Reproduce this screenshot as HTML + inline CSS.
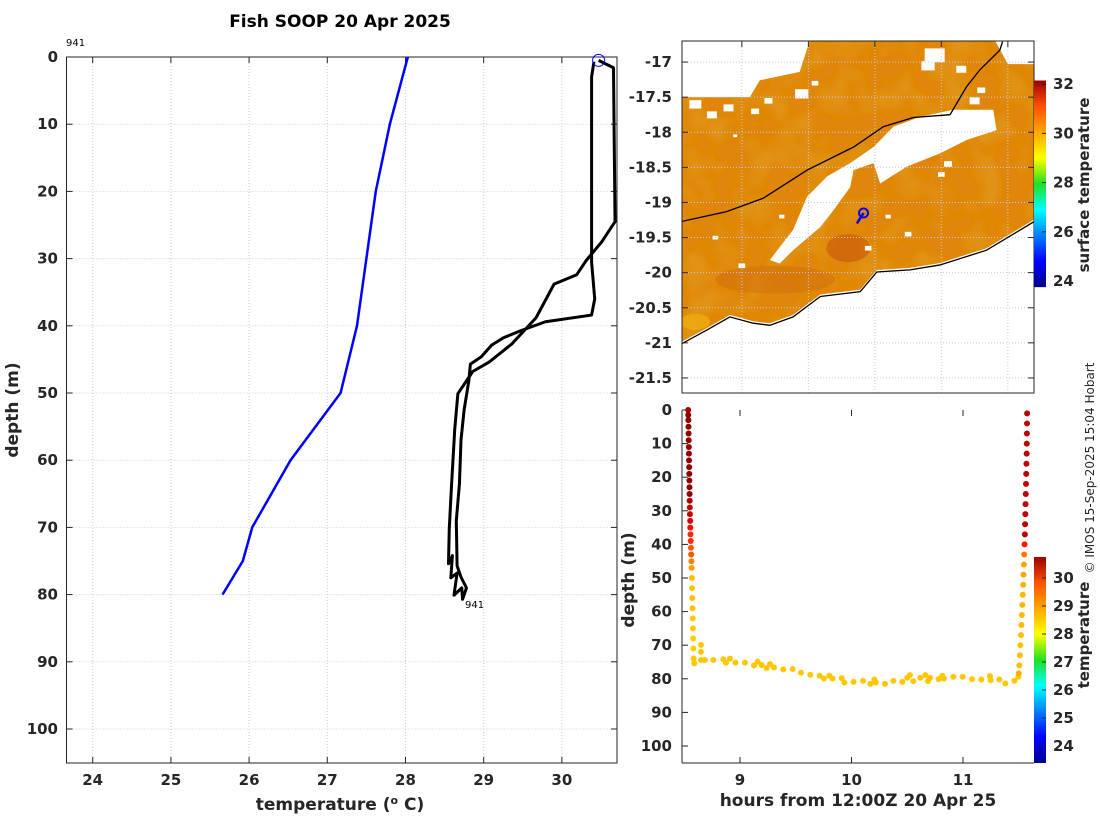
<!DOCTYPE html>
<html><head><meta charset="utf-8">
<style>
html,body{margin:0;padding:0;background:#fff;}
svg{display:block;font-family:"DejaVu Sans","Liberation Sans",sans-serif;}
.tk{font-size:15px;font-weight:bold;fill:#262626;}
.lb{font-size:17px;font-weight:bold;fill:#262626;}
</style></head>
<body>
<svg id="fig" width="1100" height="820" viewBox="0 0 1100 820" xmlns="http://www.w3.org/2000/svg">
<defs>
<linearGradient id="jet" x1="0" y1="1" x2="0" y2="0">
<stop offset="0" stop-color="#00008f"/><stop offset="0.125" stop-color="#0000ff"/><stop offset="0.375" stop-color="#00ffff"/><stop offset="0.5" stop-color="#20e020"/><stop offset="0.625" stop-color="#ffff00"/><stop offset="0.875" stop-color="#ff5000"/><stop offset="1" stop-color="#9a0000"/>
</linearGradient>
<filter id="grain" x="0" y="0" width="100%" height="100%">
<feTurbulence type="fractalNoise" baseFrequency="0.035" numOctaves="2" seed="4" result="n"/>
<feColorMatrix in="n" type="matrix" values="0 0 0 0 0.75  0 0 0 0 0.38  0 0 0 0 0.02  0 0 0 1.1 -0.45" result="c"/>
<feComposite in="c" in2="SourceGraphic" operator="in" result="cc"/>
<feMerge><feMergeNode in="SourceGraphic"/><feMergeNode in="cc"/></feMerge>
</filter>
<clipPath id="mapclip"><rect x="682" y="41" width="352" height="352"/></clipPath>
</defs>
<text x="340" y="27" text-anchor="middle" style="font-size:17px;font-weight:bold">Fish SOOP 20 Apr 2025</text>
<g id="left"></g>
<g id="map"></g>
<g id="bot"></g>
<text transform="translate(1094,468) rotate(-90)" text-anchor="middle" style="font-size:12px;fill:#262626">© IMOS 15-Sep-2025 15:04 Hobart</text>
</svg>
<script>
// ---- profile data ----
const climDepth=[0,10,20,30,40,50,60,70,75,80];
const climTemp=[28.03,27.8,27.62,27.5,27.38,27.17,26.53,26.04,25.92,25.66];
const downDepth=[0.5,1.6,24.5,27.5,30.3,32.4,33.8,38.8,42.7,45.4,46.8,50.1,55.4,63.5,70.2,75.4,74.2,77.5,76.8,80.1,79.0,80.7];
const downTemp=[30.47,30.66,30.68,30.51,30.31,30.19,29.9,29.67,29.36,29.07,28.86,28.67,28.63,28.59,28.56,28.55,28.6,28.58,28.66,28.62,28.72,28.73];
const upDepth=[80.7,79,77.4,75.7,69,63.5,57,52.5,48.2,45.7,44.6,42.9,41.8,40.7,39.4,38.4,36,30.5,22.3,14,3,0.7];
const upTemp=[28.73,28.78,28.71,28.66,28.65,28.69,28.71,28.75,28.81,28.83,28.97,29.1,29.25,29.48,29.79,30.38,30.42,30.38,30.38,30.38,30.38,30.41];
const tTicks=[24,25,26,27,28,29,30];
const dTicks=[0,10,20,30,40,50,60,70,80,90,100];
// ---- map data ----
const coastLon=[116.10,116.47,116.82,117.17,117.42,117.77,118.18,118.78,119.03,119.53,119.98,120.68,121.40];
const coastLat=[-21.01,-20.82,-20.63,-20.72,-20.75,-20.63,-20.34,-20.27,-19.99,-19.96,-19.89,-19.68,-19.27];
const lineLon=[116.10,116.77,117.32,117.98,118.68,119.13,119.58,120.13,120.38,120.58,120.88,120.92];
const lineLat=[-19.27,-19.13,-18.94,-18.54,-18.21,-17.92,-17.79,-17.75,-17.35,-17.11,-16.83,-16.71];
const dataTopLon=[116.10,117.12,117.27,117.87,118.02,120.81,121.0,121.39];
const dataTopLat=[-17.5,-17.5,-17.26,-17.14,-16.7,-16.7,-17.03,-17.03];
const cloudLon=[117.42,117.77,117.98,118.28,118.63,118.98,119.28,119.68,120.18,120.78,120.83,120.38,119.98,119.48,119.08,118.98,118.68,118.63,118.38,118.18,117.77,117.57];
const cloudLat=[-19.82,-19.39,-18.92,-18.63,-18.44,-18.21,-17.92,-17.78,-17.68,-17.68,-17.97,-18.11,-18.30,-18.49,-18.73,-18.44,-18.54,-18.78,-19.11,-19.35,-19.68,-19.87];
const blobLon=[116.3,116.8,117.4,117.9,119.9,120.3,120.6,119.5,118.9,117.0,116.6,117.7,120.0,119.2,116.55,117.2,118.1,119.8,120.5,120.1,116.9,117.6];
const blobLat=[-17.6,-17.65,-17.55,-17.45,-16.9,-17.1,-17.4,-19.45,-19.65,-19.9,-19.5,-19.55,-18.6,-19.2,-17.75,-17.7,-17.3,-17.05,-17.55,-18.45,-18.05,-19.2];
const blobSize=[0.18,0.15,0.12,0.2,0.3,0.15,0.12,0.1,0.1,0.1,0.08,0.1,0.1,0.08,0.15,0.12,0.1,0.2,0.15,0.12,0.06,0.08];
const trackLon=[118.83,118.73];
const trackLat=[-19.15,-19.3];
const latTicks=[-17,-17.5,-18,-18.5,-19,-19.5,-20,-20.5,-21,-21.5];
const lonTicks=[117,118,119,120,121];
const sstTicks=[24,26,28,30,32];
// ---- depth-time scatter ----
const descT=[8.535,8.536,8.537,8.538,8.539,8.540,8.541,8.542,8.543,8.544,8.545,8.546,8.547,8.548,8.549,8.550,8.551,8.553,8.554,8.556,8.558,8.560,8.562,8.564,8.566,8.568,8.570,8.572,8.574,8.576,8.578,8.580,8.582,8.584];
const descD=[0,1.5,3,5,7,9,11,13,15,17,19,21,23,25,27,29,31,33,35,37,39,41,43,45,47,50,53,56,59,62,65,68,71,74];
const botT=[8.59,8.65,8.65,8.65,8.686,8.761,8.85,8.874,8.91,8.96,9.045,9.126,9.158,9.194,9.239,9.269,9.305,9.388,9.472,9.547,9.631,9.714,9.753,9.801,9.831,9.912,9.936,10.019,10.103,10.169,10.205,10.217,10.3,10.375,10.456,10.5,10.524,10.554,10.617,10.662,10.686,10.704,10.782,10.814,10.829,10.913,10.997,11.081,11.164,11.242,11.248,11.326,11.38,11.461,11.497];
const botD=[75.4,69.9,72,74.4,74.4,74.4,74.2,75.2,74.0,75.2,75.2,76.0,74.9,75.9,76.8,75.6,76.6,77.2,77.1,78.2,78.8,79.1,79.9,79.1,79.9,79.8,81.1,80.9,80.6,81.5,80.2,81.1,81.5,80.6,80.9,79.7,78.9,80.7,79.7,78.9,80.7,79.7,80.1,79.1,79.9,79.4,79.4,80.1,80.2,79.2,80.4,80.2,81.4,80.6,79.4];
const ascT=[11.50,11.505,11.51,11.515,11.52,11.524,11.528,11.532,11.536,11.540,11.543,11.546,11.549,11.552,11.555,11.557,11.559,11.561,11.563,11.565,11.567,11.569,11.571,11.572,11.573,11.574,11.575];
const ascD=[78.4,76,73,70,67,64,61,58,55,52,49,46,43,40,37,34,31,28,25,22,19,16,13,10,7,4,1];
const bTimeTicks=[9,10,11];
const tempCbTicks=[24,25,26,27,28,29,30];

const NS='http://www.w3.org/2000/svg';
function mk(parent,tag,attrs,text){const e=document.createElementNS(NS,tag);for(const k in attrs)e.setAttribute(k,attrs[k]);if(text!==undefined)e.textContent=text;parent.appendChild(e);return e;}
function jet(v,lo,hi){let t=Math.max(0,Math.min(1,(v-lo)/(hi-lo)));const c=x=>Math.round(255*Math.max(0,Math.min(1,1.5-Math.abs(4*t-x))));return `rgb(${c(3)},${c(2)},${c(1)})`;}
function interp(d,ds,ts){let best=0,bd=1e9;for(let i=0;i<ds.length;i++){const q=Math.abs(ds[i]-d);if(q<bd){bd=q;best=i;}}return ts[best];}

// ===== Left profile =====
const L=document.getElementById('left');
const lx=t=>66.5+(t-23.665)/(30.705-23.665)*550.5;
const ly=d=>57+d*6.72;
for(const t of tTicks){
 const g=mk(L,'line',{x1:lx(t),x2:lx(t),y1:57,y2:763,stroke:'#c6cbe0','stroke-width':1,'stroke-dasharray':'1,2'});
 
 mk(L,'line',{x1:lx(t),x2:lx(t),y1:57,y2:63,stroke:'#262626'});
 mk(L,'line',{x1:lx(t),x2:lx(t),y1:763,y2:757,stroke:'#262626'});
 const tx=mk(L,'text',{x:lx(t),y:785,'text-anchor':'middle',class:'tk'},t);
 
}
for(const d of dTicks){
 mk(L,'line',{x1:66.5,x2:617,y1:ly(d),y2:ly(d),stroke:'#c6cbe0','stroke-width':1,'stroke-dasharray':'1,2'});
 mk(L,'line',{x1:66.5,x2:72.5,y1:ly(d),y2:ly(d),stroke:'#262626'});
 mk(L,'line',{x1:617,x2:611,y1:ly(d),y2:ly(d),stroke:'#262626'});
 const tx=mk(L,'text',{x:58,y:ly(d)+5,'text-anchor':'end',class:'tk'},d);
 
}
mk(L,'rect',{x:66.5,y:57,width:550.5,height:706,fill:'none',stroke:'#262626','stroke-width':1});
let p=climDepth.map((d,i)=>`${lx(climTemp[i])},${ly(d)}`).join(' ');
let e=mk(L,'polyline',{points:p,fill:'none',stroke:'#0000ff','stroke-width':2.5});

p=downDepth.map((d,i)=>`${lx(downTemp[i])},${ly(d)}`).concat(upDepth.map((d,i)=>`${lx(upTemp[i])},${ly(d)}`)).join(' ');
e=mk(L,'polyline',{points:p,fill:'none',stroke:'#000','stroke-width':3,'stroke-linejoin':'round'});

e=mk(L,'circle',{cx:lx(downTemp[0]),cy:ly(0.5),r:6,fill:'none',stroke:'#0000ff','stroke-width':1});

mk(L,'text',{x:465,y:608,style:'font-size:10px;fill:#000'},'941');
mk(L,'text',{x:66,y:46,style:'font-size:10px;fill:#000'},'941');
e=mk(L,'text',{x:340,y:810,'text-anchor':'middle',class:'lb'});

e.innerHTML='temperature (<tspan dy="-6" style="font-size:11px">o</tspan><tspan dy="6"> C)</tspan>';
e=mk(L,'text',{transform:'translate(18,410) rotate(-90)','text-anchor':'middle',class:'lb'},'depth (m)');


// ===== Map =====
const M=document.getElementById('map');
const mx=lon=>682+(lon-116.1)*66.5;
const my=lat=>41+(-16.7-lat)*70.2;
const mc=mk(M,'g',{'clip-path':'url(#mapclip)'});
let dp=dataTopLon.map((o,i)=>`${mx(o)},${my(dataTopLat[i])}`);
for(let i=coastLon.length-1;i>=0;i--)dp.push(`${mx(coastLon[i])},${my(coastLat[i])-2}`);
e=mk(mc,'polygon',{points:dp.join(' '),fill:'#e0860f',filter:'url(#grain)'});

mk(mc,'ellipse',{cx:mx(118.6),cy:my(-19.65),rx:22,ry:14,fill:'#c8560c',opacity:0.6});
mk(mc,'ellipse',{cx:mx(117.5),cy:my(-20.1),rx:60,ry:14,fill:'#cf6a0d',opacity:0.45});
mk(mc,'ellipse',{cx:mx(116.3),cy:my(-20.7),rx:15,ry:8,fill:'#f0b010',opacity:0.7});
e=mk(mc,'polygon',{points:cloudLon.map((o,i)=>`${mx(o)},${my(cloudLat[i])}`).join(' '),fill:'#fff'});

for(let i=0;i<blobLon.length;i++){const s=blobSize[i]*66.5;
 e=mk(mc,'rect',{x:mx(blobLon[i])-s/2,y:my(blobLat[i])-s/3,width:s,height:s*0.7,fill:'#fff'});
 }
for(const t of lonTicks)mk(mc,'line',{x1:mx(t),x2:mx(t),y1:41,y2:393,stroke:'#c6cbe0','stroke-dasharray':'1,2'});
for(const t of latTicks)mk(mc,'line',{x1:682,x2:1034,y1:my(t),y2:my(t),stroke:'#c6cbe0','stroke-dasharray':'1,2'});
e=mk(mc,'polyline',{points:coastLon.map((o,i)=>`${mx(o)},${my(coastLat[i])}`).join(' '),fill:'none',stroke:'#000','stroke-width':1.3});

e=mk(mc,'polyline',{points:lineLon.map((o,i)=>`${mx(o)},${my(lineLat[i])}`).join(' '),fill:'none',stroke:'#000','stroke-width':1.3});

e=mk(mc,'polyline',{points:trackLon.map((o,i)=>`${mx(o)},${my(trackLat[i])}`).join(' '),fill:'none',stroke:'#0000ff','stroke-width':2.5});

mk(mc,'circle',{cx:mx(trackLon[0]),cy:my(trackLat[0]),r:4.5,fill:'none',stroke:'#0000ff','stroke-width':2});
for(const t of latTicks){
 mk(M,'line',{x1:682,x2:688,y1:my(t),y2:my(t),stroke:'#262626'});
 mk(M,'line',{x1:1034,x2:1028,y1:my(t),y2:my(t),stroke:'#262626'});
 e=mk(M,'text',{x:672,y:my(t)+5,'text-anchor':'end',class:'tk'},t);
 
}
for(const t of lonTicks){
 mk(M,'line',{x1:mx(t),x2:mx(t),y1:41,y2:47,stroke:'#262626'});
 e=mk(M,'text',{x:mx(t),y:419,'text-anchor':'middle',class:'tk'},t);
 
}
mk(M,'rect',{x:682,y:41,width:352,height:352,fill:'none',stroke:'#262626'});
const scy=v=>281-(v-24)*24.6;
e=mk(M,'rect',{x:1034,y:scy(32.15),width:12,height:scy(23.75)-scy(32.15),fill:'url(#jet)'});

for(const t of sstTicks){mk(M,'line',{x1:1046,x2:1042,y1:scy(t),y2:scy(t),stroke:'#262626'});
 mk(M,'text',{x:1053,y:scy(t)+5,class:'tk'},t);}
e=mk(M,'text',{transform:'translate(1089,185) rotate(-90)','text-anchor':'middle',class:'tk'},'surface temperature');


// ===== Depth-time =====
const B=document.getElementById('bot');
mk(B,'rect',{x:690,y:404,width:340,height:359,fill:'#fff'});
const bx=t=>740+(t-9)*111.5;
const by=d=>410+d*3.36;
for(const t of bTimeTicks){
 mk(B,'line',{x1:bx(t),x2:bx(t),y1:763,y2:757,stroke:'#262626'});
 mk(B,'line',{x1:bx(t),x2:bx(t),y1:410,y2:416,stroke:'#262626'});
 e=mk(B,'text',{x:bx(t),y:785,'text-anchor':'middle',class:'tk'},t);
 
}
for(const d of dTicks){
 mk(B,'line',{x1:682,x2:688,y1:by(d),y2:by(d),stroke:'#262626'});
 e=mk(B,'text',{x:672,y:by(d)+5,'text-anchor':'end',class:'tk'},d);
 
}
mk(B,'line',{x1:682,x2:682,y1:410,y2:763,stroke:'#262626'});
mk(B,'line',{x1:682,x2:1034,y1:763,y2:763,stroke:'#262626'});
function dot(t,d,temp){const c=mk(B,'circle',{cx:bx(t),cy:by(d),r:3,fill:jet(temp,23.94,30.79)});
 
 }
descT.forEach((t,i)=>dot(t,descD[i],interp(descD[i],downDepth,downTemp)));
botT.forEach((t,i)=>dot(t,botD[i],28.6));
ascT.forEach((t,i)=>dot(t,ascD[i],interp(ascD[i],upDepth,upTemp)));
const tcy=v=>746-(v-24)*28;
e=mk(B,'rect',{x:1034,y:557,width:12,height:206,fill:'url(#jet)'});

for(const t of tempCbTicks){mk(B,'line',{x1:1046,x2:1042,y1:tcy(t),y2:tcy(t),stroke:'#262626'});
 mk(B,'text',{x:1053,y:tcy(t)+5,class:'tk'},t);}
e=mk(B,'text',{transform:'translate(1089,635) rotate(-90)','text-anchor':'middle',class:'tk'},'temperature');

e=mk(B,'text',{x:858,y:806,'text-anchor':'middle',class:'lb'},'hours from 12:00Z 20 Apr 25');

e=mk(B,'text',{transform:'translate(634,580) rotate(-90)','text-anchor':'middle',class:'lb'},'depth (m)');

</script>
</body></html>
